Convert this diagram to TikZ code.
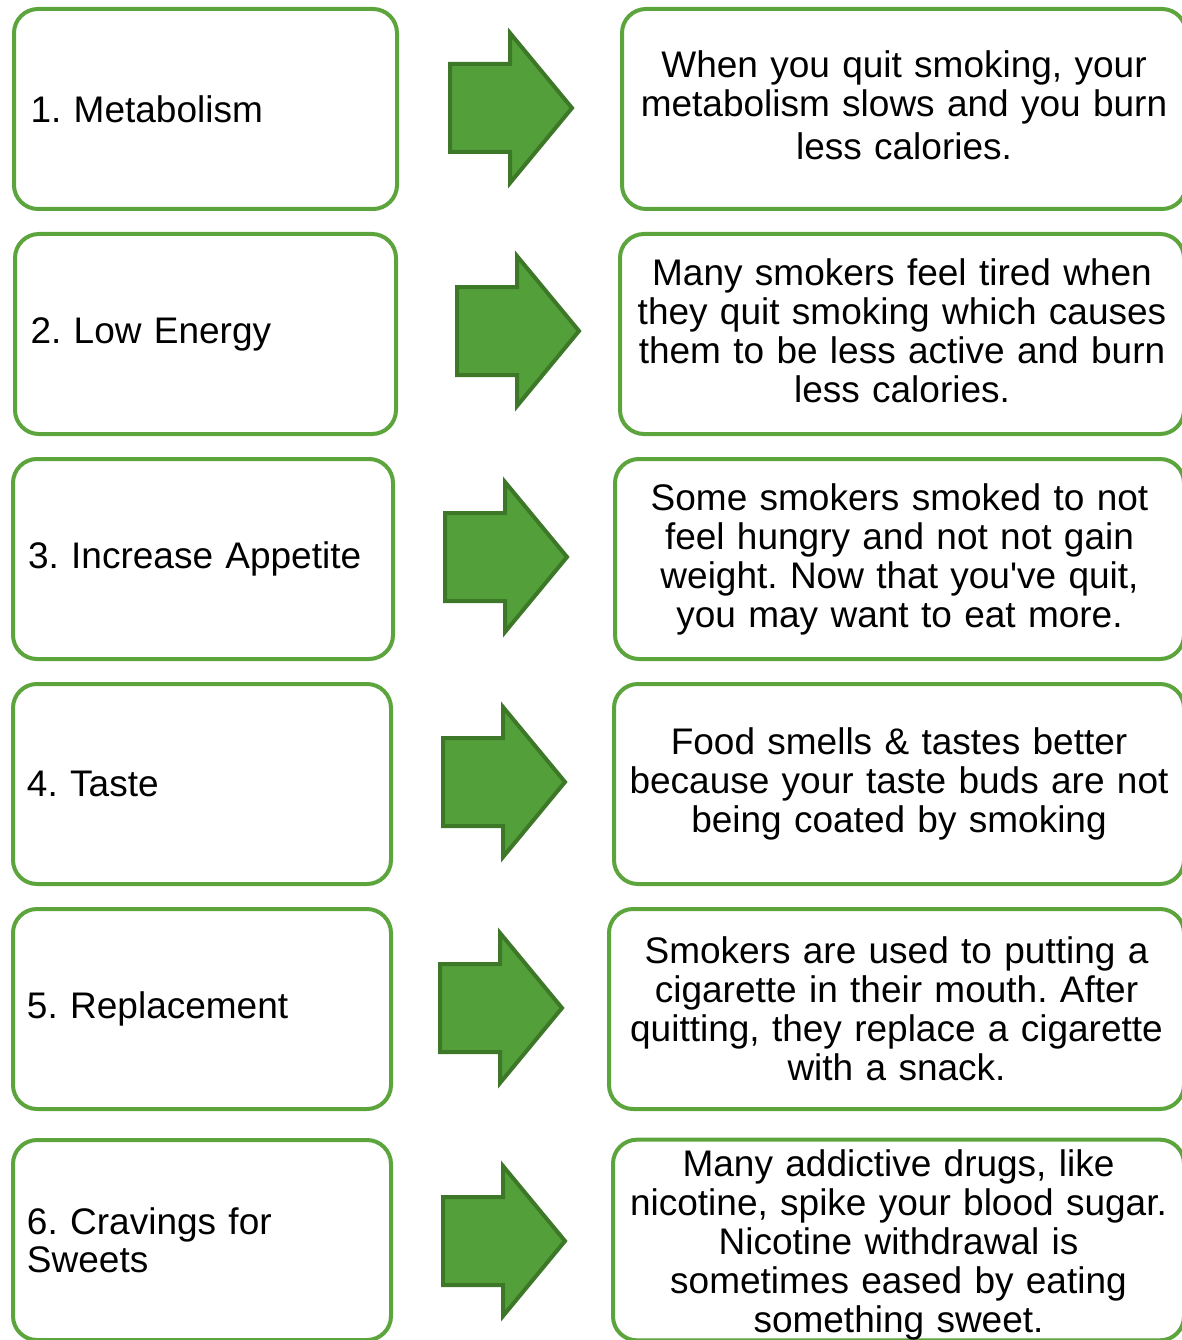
\documentclass[tikz,border=0pt]{standalone}
\usepackage{fontspec}
\setmainfont{Liberation Sans}
\frenchspacing
\definecolor{boxgreen}{RGB}{92,164,60}
\definecolor{arrowfill}{RGB}{83,159,58}
\definecolor{arrowline}{RGB}{60,120,40}
\tikzset{
  causebox/.style={draw=boxgreen, line width=4pt, rounded corners=24pt, anchor=west,
    minimum width=#1, minimum height=200pt, text width=350pt, inner xsep=14pt, inner ysep=0pt,
    align=left, font=\fontsize{37}{38}\selectfont},
  effectbox/.style={draw=boxgreen, line width=4pt, rounded corners=24pt, anchor=west,
    minimum width=#1, minimum height=200pt, text width=552pt, inner xsep=6pt, inner ysep=0pt,
    align=center, font=\fontsize{37}{39}\selectfont},
  bigarrow/.style={fill=arrowfill, draw=arrowline, line width=4pt, line join=miter},
}
% #1 = left end of the shaft, #2 = middle height
\newcommand{\rowarrow}[2]{%
  \draw[bigarrow] (#1,#2-44) -- ++(60,0) -- ++(0,-31) -- (#1+122,#2)
    -- (#1+60,#2+75) -- ++(0,-31) -- (#1,#2+44) -- cycle;}
\begin{document}
\begin{tikzpicture}[x=1pt,y=-1pt]
\useasboundingbox (0,0) rectangle (1182,1340);
% causes
\node[causebox=383pt] (c1) at (12,109) {1. Metabolism};
\node[causebox=381pt] (c2) at (13,334) {2. Low Energy};
\node[causebox=380pt] (c3) at (11,559) {3. Increase Appetite};
\node[causebox=377pt] (c4) at (11,784) {4. Taste};
\node[causebox=375pt] (c5) at (11,1009) {5. Replacement};
\node[causebox=378pt] (c6) at (11,1240) {6. Cravings for\\Sweets};
% arrows
\rowarrow{450}{108}
\rowarrow{457}{331}
\rowarrow{445}{557}
\rowarrow{443}{782}
\rowarrow{440}{1008}
\rowarrow{443}{1241}
% effects
\node[effectbox=562pt] (e1) at (620,109) {When you quit smoking, your\\metabolism slows and you burn\\[4pt]less calories.\rule[-8pt]{0pt}{0pt}};
\node[effectbox=564pt] (e2) at (618,334) {Many smokers feel tired when\\they quit smoking which causes\\them to be less active and burn\\less calories.\rule[-6pt]{0pt}{0pt}};
\node[effectbox=569pt] (e3) at (613,559) {Some smokers smoked to not\\feel hungry and not not gain\\weight. Now that you\textquotesingle ve quit,\\you may want to eat more.};
\node[effectbox=570pt] (e4) at (612,784) {Food smells \& tastes better\\because your taste buds are not\\being coated by smoking};
\node[effectbox=575pt] (e5) at (607,1009) {Smokers are used to putting a\\cigarette in their mouth. After\\quitting, they replace a cigarette\\with a snack.};
\node[effectbox=571pt] (e6) at (611,1240) {\rule{0pt}{37pt}Many addictive drugs, like\\nicotine, spike your blood sugar.\\Nicotine withdrawal is\\sometimes eased by eating\\something sweet.};
\end{tikzpicture}
\end{document}
